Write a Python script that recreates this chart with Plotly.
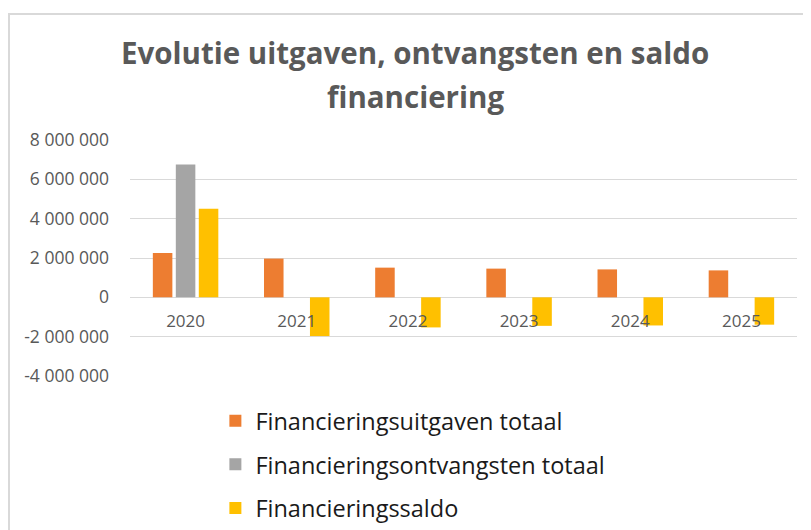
import plotly.graph_objects as go

years = ["2020", "2021", "2022", "2023", "2024", "2025"]
uitgaven = [2260000, 1970000, 1510000, 1460000, 1420000, 1370000]
ontvangsten = [6760000, 0, 0, 0, 0, 0]
saldo = [4500000, -1970000, -1530000, -1450000, -1430000, -1390000]

series_names = ["Financieringsuitgaven totaal", "Financieringsontvangsten totaal", "Financieringssaldo"]
series_colors = ["#ED7D31", "#A5A5A5", "#FFC000"]

y_min, y_max = -4000000, 8000000
tick_vals = [-4000000, -2000000, 0, 2000000, 4000000, 6000000, 8000000]
tick_text = ["-4 000 000", "-2 000 000", "0", "2 000 000", "4 000 000", "6 000 000", "8 000 000"]

title_lines = ["Evolutie uitgaven, ontvangsten en saldo", "financiering"]

FONT = "Open Sans"

fig = go.Figure()
for i, (name, vals, col) in enumerate(zip(series_names, [uitgaven, ontvangsten, saldo], series_colors)):
    fig.add_trace(go.Bar(x=years, y=vals, name=name, marker_color=col,
                         marker_line_width=0, legendgroup=f"g{i}"))

# title lines
fig.add_annotation(x=0.428, y=1.0, xref="paper", yref="paper", text=f"<b>{title_lines[0]}</b>",
                   showarrow=False, xanchor="center", yanchor="middle",
                   yshift=88, font=dict(family=FONT, size=29.5, color="#595959"))
fig.add_annotation(x=0.428, y=1.0, xref="paper", yref="paper", text=f"<b>{title_lines[1]}</b>",
                   showarrow=False, xanchor="center", yanchor="middle",
                   yshift=44, font=dict(family=FONT, size=29.5, color="#595959"))

# chart frame
fig.add_shape(type="rect", xref="paper", yref="paper", x0=-0.1814, x1=1.2, y0=-1.0, y1=1.534,
              line=dict(color="#D9D9D9", width=2), fillcolor="rgba(0,0,0,0)", layer="below")

fig.update_layout(
    width=811, height=530,
    margin=dict(l=122, r=22, t=132, b=162, autoexpand=False),
    paper_bgcolor="white", plot_bgcolor="white",
    barmode="group", bargap=0.38, bargroupgap=0.15,
    showlegend=True,
    legend=dict(orientation="v", x=0.128, xanchor="left", y=-0.0975, yanchor="top",
                traceorder="grouped", tracegroupgap=10,
                font=dict(family=FONT, size=23.5, color="#1A1A1A"),
                bgcolor="rgba(0,0,0,0)"),
    font=dict(family=FONT),
)
# category axis sits on the zero line (Excel style)
fig.update_xaxes(type="category", showticklabels=True, showgrid=False, showline=False,
                 zeroline=False, ticks="", automargin=False,
                 anchor="free", position=(0 - y_min) / (y_max - y_min),
                 ticklabelstandoff=12,
                 tickfont=dict(family=FONT, size=17, color="#595959"))
fig.update_yaxes(range=[y_min, y_max], tickvals=tick_vals, ticktext=tick_text,
                 showgrid=True, gridcolor="#D9D9D9", gridwidth=1.3,
                 zeroline=True, zerolinecolor="#D9D9D9", zerolinewidth=1.3,
                 showline=False, ticks="", ticklabelstandoff=20, automargin=False,
                 tickfont=dict(family=FONT, size=17.5, color="#595959"))

fig.write_html("out.html")
